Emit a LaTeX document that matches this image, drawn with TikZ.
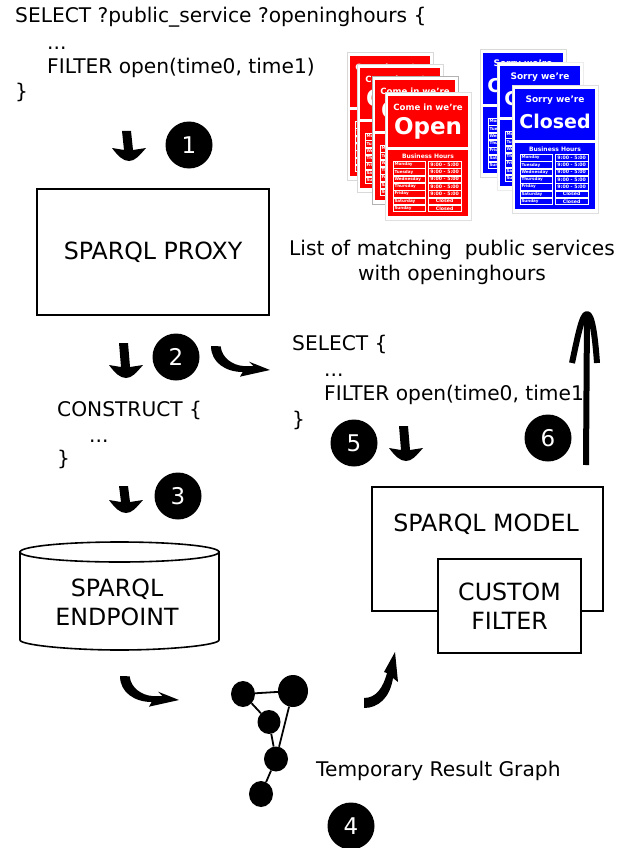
\documentclass[tikz,border=0pt]{standalone}
\usepackage{fontspec}
\setmainfont{DejaVu Sans}
\newcommand{\fs}[1]{\fontsize{#1}{#1}\selectfont}
\tikzset{
  txt/.style={anchor=base west,inner sep=0pt,font=\fs{20.2}},
  ctxt/.style={anchor=center,inner sep=0pt,align=center,font=\fs{23.7}},
  boxs/.style={draw=black,line width=2.4pt,fill=white},
  num/.style={circle,fill=black,text=white,minimum size=47pt,inner sep=0pt,font=\fs{23}},
  gnode/.style={ellipse,fill=black,inner sep=0pt},
  gedge/.style={draw=black,line width=1.8pt},
  daytext/.style={white,inner sep=0pt,font=\bfseries\fs{4.1}},
  hourtext/.style={white,inner sep=0pt,font=\bfseries\fs{4.7}},
  rowbox/.style={draw=white,line width=0.5pt},
}
\usetikzlibrary{shapes.geometric}
% id, x, y, colour, top line, big word, top line size, big word size, border
\newcommand{\sign}[9]{%
  \begin{scope}[shift={(#2,#3)}]
    \fill[white] (0,0) rectangle (86,127);
    \draw[#9,line width=1pt] (0,0) rectangle (86,127);
    \fill[#4] (3,3) rectangle (83,54);
    \fill[#4] (3,57) rectangle (83,123);
    \node[white,inner sep=0pt,font=\bfseries\fs{#7}] (#1a) at (43,14) {#5};
    \node[white,inner sep=0pt,font=\bfseries\fs{#8}] (#1b) at (43,35.5) {#6};
    \node[white,inner sep=0pt,font=\bfseries\fs{6}] (#1c) at (43,63) {Business Hours};
    \foreach \d/\h [count=\i] in {Monday/9:00 - 5:00,Tuesday/9:00 - 5:00,Wednesday/9:00 - 5:00,Thursday/9:00 - 5:00,Friday/9:00 - 5:00,Saturday/Closed,Sunday/Closed}{
      \pgfmathsetmacro{\ya}{68.3+(\i-1)*7.3}
      \pgfmathsetmacro{\yb}{\ya+6.6}
      \pgfmathsetmacro{\ym}{\ya+3.3}
      \draw[rowbox] (8,\ya) rectangle (40.5,\yb);
      \draw[rowbox] (43.5,\ya) rectangle (76,\yb);
      \node[daytext,anchor=west] (#1d\i) at (9.3,\ym) {\d};
      \node[hourtext] (#1h\i) at (59.7,\ym) {\h};
    }
  \end{scope}}
% left, top, height
\newcommand{\downarr}[3]{%
  \begin{scope}[shift={(#1,#2)}]
    \fill[black] (10,0) -- (19,0) -- (21,#3-11) -- (34,#3-13) .. controls (27,#3-5) and (23,#3) .. (17,#3)
      .. controls (11,#3) and (6,#3-5) .. (0,#3-13) -- (12,#3-11) -- cycle;
  \end{scope}}
\newcommand{\curvearr}[2]{%
  \begin{scope}[shift={(#1,#2)},x=0.3333pt,y=-0.3333pt]
    \fill[black] (0,0) -- (29,1) .. controls (32,35) and (65,58) .. (97,60) -- (127,60) -- (114,47) -- (177,72) -- (87,92) -- (95,78)
      .. controls (45,78) and (0,50) .. (0,0) -- cycle;
  \end{scope}}
\begin{document}
\begin{tikzpicture}[x=1pt,y=-1pt]
\useasboundingbox (0,0) rectangle (631,848);
\fill[white] (0,0) rectangle (631,848);

% query 1
\node[txt] (q1a) at (15,23) {SELECT ?public\_service ?openinghours \{};
\node[txt] (q1b) at (47,50) {...};
\node[txt] (q1c) at (47,74) {FILTER open(time0, time1)};
\node[txt] (q1d) at (15,99) {\}};

% signs
\sign{oa}{347}{53}{red}{Come in we're}{Open}{8.6}{23}{gray!30}
\sign{ob}{357}{65}{red}{Come in we're}{Open}{8.6}{23}{gray!30}
\sign{oc}{372}{77}{red}{Come in we're}{Open}{8.6}{23}{gray!60}
\sign{od}{385}{93}{red}{Come in we're}{Open}{8.6}{23}{gray!25}
\sign{ca}{480}{50}{blue}{Sorry we're}{Closed}{9}{19}{gray!30}
\sign{cb}{497}{63}{blue}{Sorry we're}{Closed}{9}{19}{gray!15}
\sign{cc}{512}{86}{blue}{Sorry we're}{Closed}{9}{19}{gray!25}

\node[anchor=center,inner sep=0pt,align=center,font=\fs{20.2}] (list) at (452,262) {List of matching\ \ public services\\[4.8pt]with openinghours};

% proxy
\node[boxs,minimum width=232pt,minimum height=126pt,inner sep=0pt,font=\fs{23.7}] (proxy) at (153,252) {SPARQL PROXY};

% numbers
\node[num] (n1) at (189,145) {1};
\node[num] (n2) at (176,357) {2};
\node[num] (n3) at (178,496) {3};
\node[num] (n4) at (351,826) {4};
\node[num] (n5) at (354,443) {5};
\node[num] (n6) at (548,438) {6};

% down arrows
\downarr{112}{131}{30}
\downarr{109}{343}{35}
\downarr{109}{486}{27}
\downarr{389}{426}{35}

% curved arrows
\curvearr{211}{346}
\curvearr{120}{676}
\fill[black] (364,698) .. controls (376,698) and (383,688) .. (387,673) -- (384,672) -- (395,652) -- (398,682) -- (393,678)
  .. controls (390,698) and (378,708) .. (364,708) -- cycle;

% queries
\node[txt] (q2a) at (292,350) {SELECT \{};
\node[txt] (q2b) at (324,376) {...};
\node[txt] (q2c) at (324,400) {FILTER open(time0, time1};
\node[txt] (q2d) at (292,426) {\}};
\node[txt] (q3a) at (57,416) {CONSTRUCT \{};
\node[txt] (q3b) at (89,442) {...};
\node[txt] (q3c) at (57,465) {\}};

% big arrow
\coordinate (six0) at (586,465);
\coordinate (six1) at (587,314);
\draw[line width=6pt] (six0) -- (six1);
\draw[line width=6pt,line join=round] (572,363) .. controls (578,335) and (582,314) .. (six1) .. controls (592,314) and (595,335) .. (597,363);

% model
\node[boxs,minimum width=231pt,minimum height=124pt,inner sep=0pt] (model) at (487.5,549) {};
\node[inner sep=0pt,font=\fs{23.7}] (modeltext) at (486,524) {SPARQL MODEL};
\node[boxs,minimum width=143pt,minimum height=94pt,inner sep=0pt,align=center,font=\fs{23.7}] (filter) at (509.5,606) {CUSTOM\\[5.5pt]FILTER};

% cylinder
\draw[black,line width=1.6pt,fill=white] (20,551) -- (20,640) .. controls (20,645) and (70,650) .. (119.5,650) .. controls (170,650) and (219,645) .. (219,640) -- (219,551);
\draw[black,line width=1.6pt,fill=white] (119.5,552) ellipse [x radius=99.5,y radius=10];
\node[ctxt] (ep) at (117,602) {SPARQL\\[5.5pt]ENDPOINT};

% graph
\node[gnode,minimum width=24pt,minimum height=26pt] (ga) at (243,694) {};
\node[gnode,minimum width=30pt,minimum height=32pt] (gb) at (293,691) {};
\node[gnode,minimum width=23pt,minimum height=24pt] (gc) at (269,722) {};
\node[gnode,minimum width=24pt,minimum height=25pt] (gd) at (276,759) {};
\node[gnode,minimum width=24pt,minimum height=26pt] (ge) at (261,794) {};
\draw[gedge] (ga) -- (gb);
\draw[gedge] (ga) -- (gc);
\draw[gedge] (gc) -- (gd);
\draw[gedge] (gb) -- (gd);
\draw[gedge] (gd) -- (ge);
\node[txt] (tmp) at (316,776) {Temporary Result Graph};
\end{tikzpicture}
\end{document}
